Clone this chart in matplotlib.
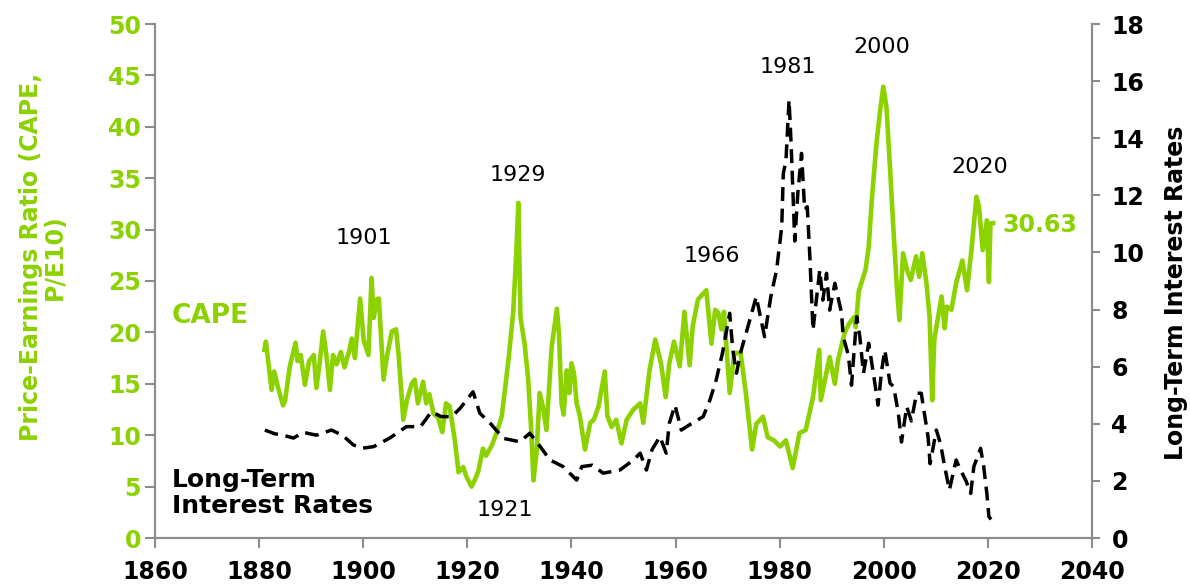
import matplotlib
matplotlib.use("Agg")
import matplotlib.pyplot as plt

# CAPE (P/E10)
cape_years = [1881.0, 1881.3, 1882.4, 1882.9, 1883.6, 1884.6, 1885.0, 1885.9, 1887.0, 1887.4,
              1888.0, 1888.8, 1889.6, 1890.5, 1891.0, 1891.6, 1892.3, 1892.9, 1893.6, 1894.2,
              1894.9, 1895.7, 1896.4, 1897.3, 1897.8, 1898.4, 1899.4, 1900.1, 1901.0, 1901.6,
              1902.0, 1902.6, 1903.0, 1903.9, 1904.6, 1905.5, 1906.3, 1906.8, 1907.7, 1908.4,
              1909.3, 1909.9, 1910.5, 1911.5, 1912.1, 1912.7, 1913.5, 1914.4, 1915.2, 1915.9,
              1916.6, 1917.6, 1918.3, 1919.2, 1919.8, 1920.8, 1921.4, 1922.1, 1923.0, 1923.6,
              1924.7, 1925.6, 1926.6, 1927.9, 1928.8, 1929.4, 1929.8, 1930.2, 1931.0, 1931.7,
              1932.3, 1932.7, 1933.3, 1933.9, 1934.5, 1935.2, 1936.2, 1937.2, 1937.6, 1938.1,
              1938.5, 1939.1, 1939.6, 1940.0, 1940.5, 1941.0, 1941.6, 1942.6, 1943.6, 1944.3,
              1945.2, 1946.4, 1946.9, 1947.7, 1948.6, 1949.6, 1950.6, 1951.9, 1953.2, 1953.8,
              1955.0, 1956.1, 1957.2, 1958.1, 1958.8, 1959.7, 1960.8, 1961.7, 1962.7, 1963.3,
              1964.3, 1965.9, 1966.9, 1967.6, 1968.2, 1968.8, 1969.3, 1970.4, 1971.3, 1972.5,
              1973.5, 1974.7, 1975.5, 1976.8, 1977.7, 1978.9, 1980.1, 1981.2, 1982.5, 1983.8,
              1985.0, 1986.4, 1987.6, 1987.9, 1989.6, 1990.6, 1991.2, 1992.5, 1993.4, 1994.3,
              1994.6, 1995.2, 1996.5, 1997.1, 1997.7, 1998.6, 1999.3, 1999.9, 2000.5, 2001.2,
              2001.8, 2002.5, 2003.0, 2003.7, 2004.5, 2005.2, 2006.2, 2006.8, 2007.4, 2008.2,
              2008.8, 2009.3, 2009.7, 2011.1, 2011.7, 2012.1, 2013.0, 2013.9, 2015.1, 2016.0,
              2016.9, 2017.8, 2018.3, 2019.0, 2019.8, 2020.2, 2020.5, 2021.0]
cape_values = [18.3, 19.1, 14.4, 16.2, 14.7, 12.9, 13.4, 16.7, 19.0, 17.2,
               17.8, 14.9, 17.2, 17.8, 14.6, 16.9, 20.1, 17.9, 14.4, 17.8,
               16.9, 18.1, 16.6, 18.2, 19.4, 17.5, 23.3, 19.2, 17.8, 25.3,
               21.4, 23.2, 23.3, 15.4, 17.8, 20.1, 20.3, 17.8, 11.5, 13.4,
               15.0, 15.4, 13.1, 15.2, 13.1, 14.0, 12.1, 11.7, 10.3, 13.1,
               12.8, 9.5, 6.4, 6.9, 6.0, 5.0, 5.6, 6.5, 8.7, 8.0,
               9.0, 10.2, 11.8, 17.3, 21.9, 27.7, 32.6, 21.5, 18.9, 15.4,
               10.2, 5.6, 8.3, 14.1, 12.8, 10.5, 18.6, 22.3, 19.9, 13.1,
               12.0, 16.3, 14.1, 17.0, 16.0, 13.1, 11.9, 8.6, 11.2, 11.5,
               12.8, 16.2, 11.9, 10.8, 11.5, 9.2, 11.5, 12.5, 13.1, 11.2,
               16.3, 19.3, 17.0, 13.7, 17.0, 19.1, 16.7, 22.0, 16.8, 20.6,
               23.2, 24.1, 18.9, 22.2, 21.9, 20.3, 22.0, 14.1, 18.0, 18.0,
               14.1, 8.6, 11.1, 11.8, 9.8, 9.5, 8.9, 9.5, 6.8, 10.2,
               10.5, 13.7, 18.3, 13.4, 17.6, 15.0, 17.3, 20.0, 20.9, 21.5,
               20.5, 24.0, 26.1, 28.3, 32.9, 38.4, 41.6, 43.9, 42.0, 36.0,
               30.5, 24.5, 21.2, 27.7, 26.0, 25.1, 27.4, 25.4, 27.7, 24.8,
               21.5, 13.4, 19.3, 23.5, 20.4, 22.5, 22.2, 24.8, 27.0, 24.1,
               28.3, 33.2, 32.2, 28.0, 30.9, 24.9, 30.6, 30.63]

# long-term interest rates (%)
rate_years = [1881.1, 1883.0, 1884.6, 1886.6, 1888.5, 1891.0, 1893.9, 1896.0, 1898.1, 1899.7,
              1902.0, 1905.1, 1908.3, 1911.0, 1913.1, 1915.0, 1917.0, 1918.6, 1921.1, 1922.4,
              1924.5, 1926.9, 1930.1, 1932.0, 1934.0, 1935.9, 1938.4, 1941.0, 1942.0, 1944.0,
              1946.1, 1949.3, 1951.9, 1953.2, 1954.4, 1955.5, 1957.0, 1958.2, 1958.8, 1959.9,
              1961.1, 1963.0, 1965.3, 1966.6, 1967.8, 1969.0, 1970.4, 1971.0, 1971.7, 1972.5,
              1973.9, 1975.5, 1977.1, 1978.3, 1979.4, 1980.4, 1980.7, 1981.2, 1981.8, 1982.2,
              1982.9, 1983.5, 1984.2, 1984.8, 1985.3, 1985.8, 1986.4, 1986.9, 1987.7, 1988.3,
              1989.0, 1989.6, 1990.6, 1991.9, 1992.2, 1993.2, 1993.8, 1994.8, 1995.4, 1996.1,
              1997.1, 1998.0, 1998.9, 1999.6, 2000.2, 2001.2, 2001.9, 2002.8, 2003.4, 2004.4,
              2005.3, 2006.3, 2007.2, 2007.9, 2008.5, 2008.9, 2010.1, 2010.9, 2011.7, 2012.6,
              2013.9, 2014.7, 2015.8, 2016.7, 2017.3, 2018.6, 2019.2, 2019.8, 2020.2, 2020.6]
rate_values = [3.78, 3.65, 3.6, 3.5, 3.7, 3.6, 3.78, 3.6, 3.26, 3.14,
               3.2, 3.5, 3.9, 3.9, 4.42, 4.25, 4.25, 4.54, 5.12, 4.37,
               4.0, 3.49, 3.37, 3.67, 3.2, 2.73, 2.5, 2.03, 2.5, 2.55,
               2.27, 2.38, 2.73, 2.97, 2.38, 3.1, 3.55, 2.97, 4.02, 4.65,
               3.78, 4.0, 4.25, 4.83, 5.53, 6.47, 7.87, 6.58, 5.77, 6.5,
               7.4, 8.45, 7.05, 8.45, 9.38, 10.9, 12.77, 13.2, 15.34, 13.8,
               10.4, 12.1, 13.47, 11.5, 11.6, 9.85, 7.28, 8.1, 9.38, 8.33,
               9.27, 7.98, 8.92, 7.87, 7.05, 6.4, 5.35, 7.75, 7.05, 5.77,
               6.82, 5.77, 4.65, 5.88, 6.58, 5.42, 5.3, 4.37, 3.36, 4.6,
               4.1, 5.07, 5.07, 4.25, 3.55, 2.6, 3.78, 3.3, 2.5, 1.68,
               2.73, 2.4, 2.0, 1.56, 2.5, 3.14, 2.5, 1.56, 0.75, 0.65]

# year labels placed on the chart
peak_labels = ['1901', '1929', '1921', '1966', '1981', '2000', '2020']
peak_label_x = [1900.1, 1929.7, 1927.2, 1966.9, 1981.6, 1999.6, 2018.5]
peak_label_y = [29.2, 35.3, 2.7, 27.4, 45.8, 47.8, 36.1]
last_cape = '30.63'

green = '#8CD100'
grey = '#8c8c8c'
plt.rcParams['font.family'] = ['DejaVu Sans']

fig = plt.figure(figsize=(11.9, 5.86), dpi=100)
ax = fig.add_axes([155 / 1190, 48 / 586, 937 / 1190, 514 / 586])
ax2 = ax.twinx()

ax.plot(cape_years, cape_values, color=green, lw=3.3, zorder=3)
ax2.plot(rate_years, rate_values, color='black', lw=2.5, dashes=(4, 2.2), zorder=2)

ax.set_xlim(1860, 2040)
ax.set_ylim(0, 50)
ax2.set_ylim(0, 18)
ax.set_xticks(range(1860, 2041, 20))
ax.set_yticks(range(0, 51, 5))
ax2.set_yticks(range(0, 19, 2))

for a in (ax, ax2):
    a.spines['top'].set_visible(False)
    for s in ('left', 'right', 'bottom'):
        a.spines[s].set_color(grey)
        a.spines[s].set_linewidth(1.5)
ax.tick_params(axis='y', colors=grey, labelcolor=green, length=7, width=1.5, pad=3,
               labelsize=17)
ax.tick_params(axis='x', colors=grey, labelcolor='black', length=7, width=1.5, pad=9,
               labelsize=17)
ax2.tick_params(axis='y', colors=grey, labelcolor='black', length=6, width=1.5, pad=8,
                labelsize=17)
for lab in ax.get_xticklabels() + ax.get_yticklabels() + ax2.get_yticklabels():
    lab.set_fontweight('bold')

fig.text(0.036, 0.561, 'Price-Earnings Ratio (CAPE,\nP/E10)', rotation=90, ha='center',
         va='center', multialignment='center', color=green, fontsize=17,
         fontweight='bold', linespacing=1.0)
fig.text(0.988, 0.5, 'Long-Term Interest Rates', rotation=90, ha='center', va='center',
         color='black', fontsize=17, fontweight='bold')

for lab, x, y in zip(peak_labels, peak_label_x, peak_label_y):
    ax.text(x, y, lab, ha='center', va='center', fontsize=16, color='black')
ax.text(2030.0, 30.4, last_cape, ha='center', va='center', fontsize=17,
        fontweight='bold', color=green)
ax.text(1863.2, 21.6, 'CAPE', ha='left', va='center', fontsize=19, fontweight='bold',
        color=green)
ax.text(1863.2, 4.4, 'Long-Term\nInterest Rates', ha='left', va='center', fontsize=18,
        fontweight='bold', color='black', linespacing=1.1)

fig.savefig('out.png', dpi=100)
